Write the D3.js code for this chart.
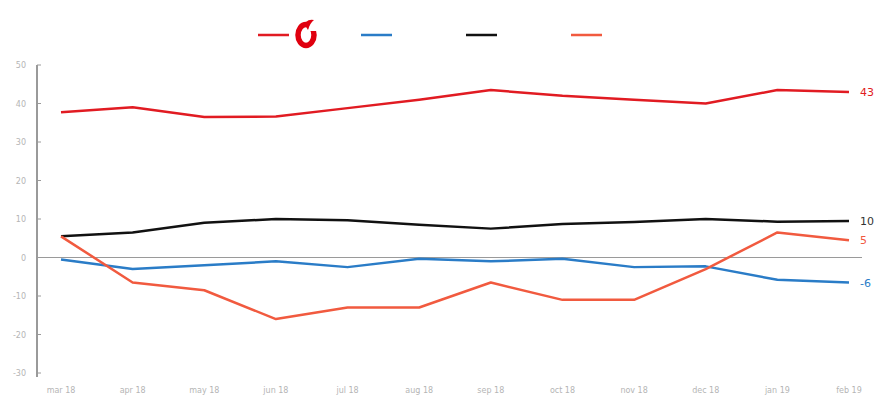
<!DOCTYPE html>
<html>
<head>
<script type="text/javascript" src="https://cdn.jsdelivr.net/npm/d3@7"></script>
<style>
body { margin:0; background:#fff; }
</style>
</head>
<body>
<div id="chart"></div>
<script>
var months = ["mar-18","apr-18","may-18","jun-18","jul-18","aug-18","sep-18","oct-18","nov-18","dec-18","jan-19","feb-19"];
var yTicks = [50,40,30,20,10,0,-10,-20,-30];
var vodafone = [37.7,39,36.5,36.6,38.8,41,43.5,42,41,40,43.5,43];
var blueSeries = [-0.5,-3,-2,-1,-2.5,-0.3,-1,-0.3,-2.5,-2.3,-5.8,-6.5];
var blackSeries = [5.5,6.5,9,10,9.7,8.5,7.5,8.7,9.2,10,9.3,9.5];
var orangeSeries = [5.5,-6.5,-8.5,-16,-13,-13,-6.5,-11,-11,-3,6.5,4.5];
var endLabels = ["43","-6","10","5"];

var series = [
	{vals: vodafone, color: "#e11b22", label: endLabels[0]},
	{vals: blueSeries, color: "#2a7cc7", label: endLabels[1]},
	{vals: blackSeries, color: "#111111", label: endLabels[2]},
	{vals: orangeSeries, color: "#f15a3f", label: endLabels[3]}
];

var svg = d3.select("#chart").append("svg")
	.attr("width", 878)
	.attr("height", 397);

var x = d3.scalePoint().domain(months).range([61, 849]);
var y = d3.scaleLinear().domain([-30, 50]).range([373, 65]);

// y axis
svg.append("line")
	.attr("x1", 37).attr("x2", 37)
	.attr("y1", y(50)).attr("y2", y(-30) + 4)
	.attr("stroke", "#9a9a9a").attr("stroke-width", 2);

yTicks.forEach(function(t){
	svg.append("line")
		.attr("x1", 37).attr("x2", 41)
		.attr("y1", y(t)).attr("y2", y(t))
		.attr("stroke", "#9a9a9a").attr("stroke-width", 1);
	svg.append("text")
		.attr("x", 26).attr("y", y(t) + 3)
		.attr("text-anchor", "end")
		.attr("font-family", "DejaVu Sans, sans-serif")
		.attr("font-size", 8)
		.attr("fill", "#b5b5b5")
		.text(t);
});

// zero line
svg.append("line")
	.attr("x1", 37).attr("x2", 862)
	.attr("y1", y(0)).attr("y2", y(0))
	.attr("stroke", "#9a9a9a").attr("stroke-width", 1.2);

// x labels
months.forEach(function(m){
	svg.append("text")
		.attr("x", x(m)).attr("y", 393)
		.attr("text-anchor", "middle")
		.attr("font-family", "DejaVu Sans, sans-serif")
		.attr("font-size", 8)
		.attr("fill", "#b5b5b5")
		.text(m.replace("-", " "));
});

var line = d3.line()
	.x(function(d, i){ return x(months[i]); })
	.y(function(d){ return y(d); });

series.forEach(function(s){
	svg.append("path")
		.attr("d", line(s.vals))
		.attr("fill", "none")
		.attr("stroke", s.color)
		.attr("stroke-width", 2.5)
		.attr("stroke-linejoin", "round");
	var last = s.vals[s.vals.length - 1];
	svg.append("text")
		.attr("x", 860).attr("y", y(last) + 4)
		.attr("font-family", "DejaVu Sans, sans-serif")
		.attr("font-size", 11)
		.attr("fill", s.color == "#111111" ? "#333" : s.color)
		.text(s.label);
});

// legend
var legendX = [258, 361, 466, 571];
series.forEach(function(s, i){
	svg.append("line")
		.attr("x1", legendX[i]).attr("x2", legendX[i] + 31)
		.attr("y1", 35).attr("y2", 35)
		.attr("stroke", s.color).attr("stroke-width", 2.5);
});

// vodafone mark: open ring with a drop at the top
svg.append("ellipse")
	.attr("cx", 306).attr("cy", 35).attr("rx", 8).attr("ry", 10.5)
	.attr("fill", "none").attr("stroke", "#e0000f").attr("stroke-width", 5.5);
svg.append("path")
	.attr("d", "M307,20 L316,20 L316,31 L309,31 Z")
	.attr("fill", "#fff");
svg.append("path")
	.attr("d", "M306,22 q3,-3 8,-2 q-4,3 -6,10 q-3,-4 -2,-8 Z")
	.attr("fill", "#e0000f");
</script>
</body>
</html>
